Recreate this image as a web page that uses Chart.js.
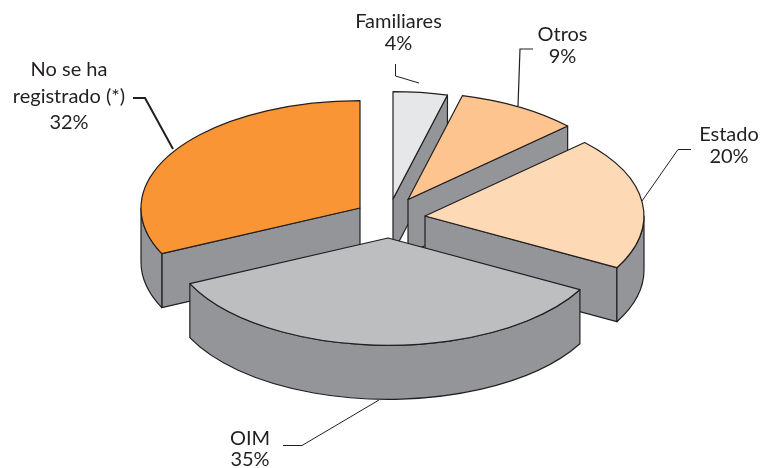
<!DOCTYPE html>
<html>
<head>
<meta charset="utf-8">
<style>html,body{margin:0;padding:0;background:#fff}#wrap{width:761px;height:468px;position:relative}</style>
<script src="https://cdn.jsdelivr.net/npm/chart.js@4/dist/chart.umd.min.js"></script>
</head>
<body>
<div id="wrap"><canvas id="c" width="761" height="468"></canvas></div>
<script>
const categories = ["Familiares", "Otros", "Estado", "OIM", "No se ha registrado (*)"];
const values = [4, 9, 20, 35, 32];
const colors = ["#E6E7E8", "#FDC48F", "#FDD9B5", "#BCBEC0", "#F99534"];
const wallColor = "#939598";
const lineColor = "#231F20";
const textColor = "#231F20";
const squash = 0.49;
const depth = 54;
const sliceShift = [[3,-20],[18,-19.5],[35,-3],[-2,19],[-30,-11]];
const drawOrder = [0, 1, 2, 4, 3];
const labelLines = [
  {lines:["Familiares","4%"], x:398.5, y:[22,44]},
  {lines:["Otros","9%"], x:562.5, y:[35,57]},
  {lines:["Estado","20%"], x:729, y:[135,157]},
  {lines:["OIM","35%"], x:250, y:[439,460]},
  {lines:["No se ha","registrado (*)","32%"], x:69, y:[70,97,123]}
];
const leaders = [
  {w:1,   pts:[[395.5,64],[395.5,76],[419,83]]},
  {w:1.2, pts:[[533,49],[520,49],[518,106]]},
  {w:1,   pts:[[691,149.5],[678,149.5],[642,201]]},
  {w:1,   pts:[[283,445.5],[302,445.5],[379,400]]},
  {w:2,   pts:[[133,98],[145,98],[173,149]]}
];

const pie3d = {
  id: "pie3d",
  beforeDatasetDraw(chart, args) {
    const ctx = chart.ctx;
    const arcs = chart.getDatasetMeta(args.index).data;
    drawOrder.forEach(i => {
      const arc = arcs[i];
      const r = arc.outerRadius;
      const x = arc.x + sliceShift[i][0];
      const y = arc.y + sliceShift[i][1];
      const a0 = arc.startAngle, a1 = arc.endAngle;
      const px = t => x + r * Math.cos(t);
      const py = t => y + r * squash * Math.sin(t);
      ctx.save();
      ctx.lineWidth = 1.2;
      ctx.strokeStyle = lineColor;
      ctx.lineJoin = "round";
      ctx.fillStyle = wallColor;
      const radial = t => {
        ctx.beginPath();
        ctx.moveTo(x, y);
        ctx.lineTo(px(t), py(t));
        ctx.lineTo(px(t), py(t) + depth);
        ctx.lineTo(x, y + depth);
        ctx.closePath();
        ctx.fill();
        ctx.stroke();
      };
      if (Math.cos(a1) > 0.01) radial(a1);
      if (Math.cos(a0) < -0.01) radial(a0);
      const w0 = Math.max(a0, 0), w1 = Math.min(a1, Math.PI);
      if (w1 > w0) {
        ctx.beginPath();
        ctx.ellipse(x, y, r, r * squash, 0, w0, w1);
        ctx.lineTo(px(w1), py(w1) + depth);
        ctx.ellipse(x, y + depth, r, r * squash, 0, w1, w0, true);
        ctx.closePath();
        ctx.fill();
        ctx.stroke();
      }
      ctx.restore();

      ctx.save();
      ctx.translate(x, y);
      ctx.scale(1, squash);
      ctx.translate(-arc.x, -arc.y);
      arc.draw(ctx);
      ctx.restore();

      ctx.save();
      ctx.lineWidth = 1.2;
      ctx.strokeStyle = lineColor;
      ctx.lineJoin = "round";
      ctx.beginPath();
      ctx.moveTo(x, y);
      ctx.ellipse(x, y, r, r * squash, 0, a0, a1);
      ctx.closePath();
      ctx.stroke();
      ctx.restore();
    });
    return false;
  },
  afterDraw(chart) {
    const ctx = chart.ctx;
    ctx.save();
    ctx.strokeStyle = lineColor;
    leaders.forEach(l => {
      ctx.lineWidth = l.w;
      ctx.beginPath();
      l.pts.forEach((p, i) => i ? ctx.lineTo(p[0], p[1]) : ctx.moveTo(p[0], p[1]));
      ctx.stroke();
    });
    ctx.fillStyle = textColor;
    ctx.font = '20px Lato';
    ctx.textAlign = "center";
    ctx.textBaseline = "middle";
    labelLines.forEach(l => l.lines.forEach((t, i) => ctx.fillText(t, l.x, l.y[i])));
    ctx.restore();
  }
};

new Chart(document.getElementById("c"), {
  type: "pie",
  data: {
    labels: categories,
    datasets: [{ data: values, backgroundColor: colors, borderWidth: 0 }]
  },
  options: {
    responsive: false,
    animation: false,
    events: [],
    rotation: 0,
    layout: { padding: { left: 171, right: 152, top: 0, bottom: 30 } },
    plugins: { legend: { display: false }, tooltip: { enabled: false }, title: { display: false } }
  },
  plugins: [pie3d]
});
</script>
</body>
</html>
